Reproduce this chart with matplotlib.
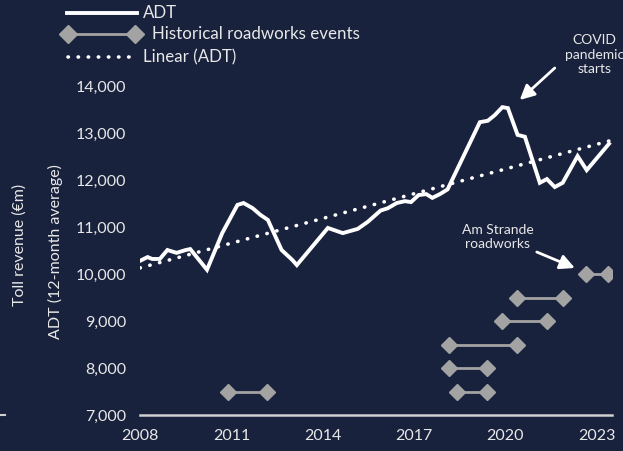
import numpy as np
import matplotlib
matplotlib.use("Agg")
import matplotlib.pyplot as plt
from matplotlib.lines import Line2D

plt.rcParams['font.family'] = ['Lato', 'DejaVu Sans']

# ADT, 12-month average
adt_year = [2008.0, 2008.25, 2008.4, 2008.65, 2008.9, 2009.2, 2009.5, 2009.65,
            2010.2, 2010.7, 2011.2, 2011.4, 2011.7, 2011.95, 2012.2, 2012.65,
            2013.0, 2013.15, 2014.17, 2014.66, 2015.15, 2015.48, 2015.9,
            2016.14, 2016.43, 2016.7, 2016.9, 2017.15, 2017.4, 2017.6, 2017.85,
            2018.1, 2019.16, 2019.42, 2019.65, 2019.9, 2020.08, 2020.4, 2020.64,
            2021.13, 2021.36, 2021.62, 2021.88, 2022.37, 2022.67, 2023.4]
adt_value = [10280, 10360, 10320, 10320, 10510, 10450, 10510, 10530,
             10090, 10870, 11470, 11510, 11400, 11260, 11150, 10510,
             10300, 10190, 10980, 10870, 10960, 11110, 11350,
             11400, 11510, 11550, 11530, 11680, 11700, 11620, 11700,
             11800, 13230, 13260, 13380, 13550, 13530, 12960, 12920,
             11940, 12020, 11850, 11940, 12510, 12210, 12770]

# linear trend (ADT), end points
trend_year = [2008.0, 2023.4]
trend_value = [10130, 12830]

# roadworks events: start, end, level
rw_start = [2010.9, 2018.4, 2018.14, 2018.14, 2019.9, 2020.37, 2022.64]
rw_end = [2012.17, 2019.4, 2019.4, 2020.37, 2021.36, 2021.88, 2023.36]
rw_level = [7500, 7500, 8000, 8500, 9000, 9500, 10000]

x_ticks = [2008, 2011, 2014, 2017, 2020, 2023]
y_ticks = [7000, 8000, 9000, 10000, 11000, 12000, 13000, 14000]

bg = '#19223d'
txt = '#e8e8e8'
grey = '#a3a3a3'
W, H = 623, 451

fig = plt.figure(figsize=(6.23, 4.51), dpi=100, facecolor=bg)
ax = fig.add_axes([140/W, 1-415/H, (612-140)/W, (415-86)/H])
ax.set_facecolor(bg)

ax.plot(adt_year, adt_value, color='white', lw=2.8, solid_joinstyle='miter',
        zorder=3)

for s, e, lv in zip(rw_start, rw_end, rw_level):
    ax.plot([s, e], [lv, lv], color=grey, lw=2, marker='D', markersize=8,
            zorder=2)

dot_style = (0, (0.1, 2.7))
ax.plot(trend_year, trend_value, color='white', lw=2.6,
        linestyle=dot_style, dash_capstyle='round', zorder=2)

ax.set_xlim(2008, 2023.5)
ax.set_ylim(7000, 14000)
ax.set_xticks(x_ticks)
ax.set_yticks(y_ticks)
ax.set_yticklabels([f'{v:,}' for v in y_ticks])
ax.tick_params(length=0, colors=txt, labelsize=11.5)
ax.tick_params(axis='x', pad=10)
ax.tick_params(axis='y', pad=10)
for side in ['left', 'right', 'top']:
    ax.spines[side].set_visible(False)
ax.spines['bottom'].set_color('#d0d0d0')
ax.spines['bottom'].set_linewidth(1.8)

fig.text(55/W, 1-252/H, 'ADT (12-month average)', rotation=90,
         color=txt, fontsize=11.5, ha='center', va='center')
fig.text(20/W, 1-245/H, 'Toll revenue (€m)', rotation=90,
         color=txt, fontsize=11.5, ha='center', va='center')
fig.add_artist(Line2D([0, 5/W], [1-415/H, 1-415/H], color='#d0d0d0', lw=1.5))

# annotations
ax.annotate('COVID\npandemic\nstarts', xy=(2020.47, 13702),
            xytext=(2022.93, 14660), ha='center', va='center', color=txt,
            fontsize=10, linespacing=1.25, annotation_clip=False)
ax.annotate('', xy=(2020.47, 13702), xytext=(2021.62, 14383),
            annotation_clip=False,
            arrowprops=dict(arrowstyle='-|>', color='white', lw=2,
                            mutation_scale=22, shrinkA=0, shrinkB=0))
ax.text(2019.75, 10787, 'Am Strande\nroadworks', ha='center', va='center',
        color=txt, fontsize=10, linespacing=1.25)
ax.annotate('', xy=(2022.28, 10128), xytext=(2021.03, 10468),
            arrowprops=dict(arrowstyle='-|>', color='white', lw=2,
                            mutation_scale=22, shrinkA=0, shrinkB=0))

# legend, drawn by hand
def ly(y):
    return 1 - y / H

fig.add_artist(Line2D([67/W, 137/W], [ly(13), ly(13)], color='white', lw=2.8))
fig.text(143/W, ly(13), 'ADT', color=txt, fontsize=12.2, va='center')
fig.add_artist(Line2D([68/W, 135/W], [ly(34), ly(34)], color=grey, lw=2,
                      marker='D', markersize=9))
fig.text(152/W, ly(34), 'Historical roadworks events', color=txt,
         fontsize=12.2, va='center')
fig.add_artist(Line2D([68/W, 137/W], [ly(57), ly(57)], color='white', lw=2.6,
                      linestyle=dot_style, dash_capstyle='round'))
fig.text(143/W, ly(57), 'Linear (ADT)', color=txt, fontsize=12.2, va='center')

fig.savefig('out.png', dpi=100, facecolor=bg)
